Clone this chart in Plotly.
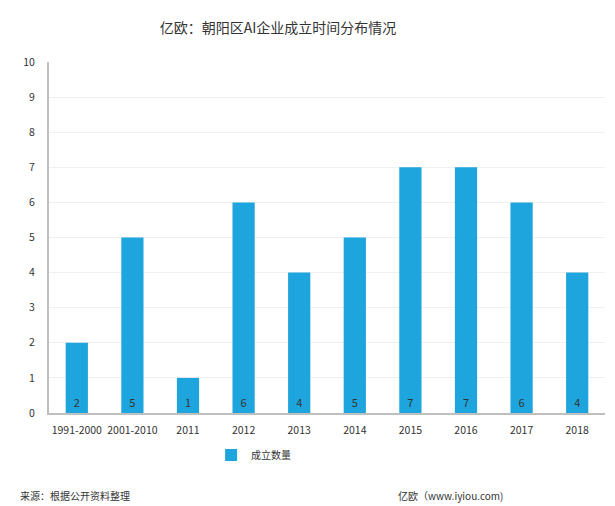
import plotly.graph_objects as go

categories = ["1991-2000", "2001-2010", "2011", "2012", "2013", "2014", "2015", "2016", "2017", "2018"]
counts = [2, 5, 1, 6, 4, 5, 7, 7, 6, 4]
series_name = "成立数量"
title = "亿欧：朝阳区AI企业成立时间分布情况"
source = "来源：根据公开资料整理"
brand = "亿欧（www.iyiou.com)"

FONT = "Noto Sans CJK SC, Microsoft YaHei, sans-serif"
BAR = "#1FA5DD"

fig = go.Figure()
fig.add_trace(go.Bar(
    x=categories, y=counts, name=series_name,
    marker=dict(color=BAR, line=dict(width=0)),
    text=[str(v) for v in counts], textposition="inside",
    insidetextanchor="start", textangle=0,
    textfont=dict(color="#333333", size=11, family=FONT),
    showlegend=True,
))

fig.update_layout(
    width=615, height=506,
    margin=dict(l=41, r=18, t=54, b=101),
    paper_bgcolor="white", plot_bgcolor="white",
    font=dict(family=FONT, color="#333333", size=10),
    bargap=0.6,
    uniformtext=dict(mode="show", minsize=11),
    title=dict(text=title, xref="paper", x=0.412, xanchor="center",
               yref="container", y=0.96, yanchor="middle",
               font=dict(size=14, color="#333333", family=FONT)),
    showlegend=True,
    legend=dict(orientation="h", x=0.368, xanchor="center", y=-0.12, yanchor="middle",
                font=dict(size=10, family=FONT), itemwidth=30),
    xaxis=dict(showline=True, linecolor="#bfbfbf", linewidth=2, ticks="",
               tickfont=dict(size=10.5), showgrid=False, ticklabelstandoff=6),
    yaxis=dict(range=[0, 10], dtick=1, showline=True, linecolor="#bfbfbf", linewidth=2,
               gridcolor="#f0f0f0", ticks="", tickfont=dict(size=10.5),
               zeroline=False, ticklabelstandoff=10),
)

fig.add_annotation(text=source, xref="paper", yref="paper", x=-0.056, y=-0.234,
                   xanchor="left", yanchor="middle", showarrow=False,
                   font=dict(size=10, color="#333333"))
fig.add_annotation(text=brand, xref="paper", yref="paper", x=0.82, y=-0.234,
                   xanchor="right", yanchor="middle", showarrow=False,
                   font=dict(size=10, color="#333333"))

fig.write_html("out.html")
